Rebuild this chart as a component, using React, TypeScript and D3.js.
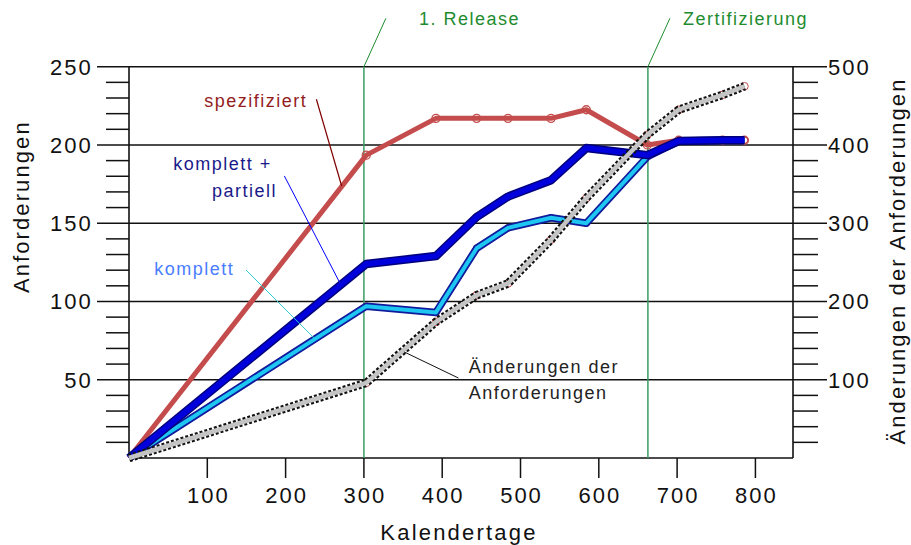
import React from "react";
import * as d3 from "d3";

// ---- data ----
const days = [0, 303, 392, 444, 484, 539, 584, 662, 702, 758, 786];
const spezifiziert = [0, 193.5, 217, 217, 217, 217, 222.5, 200, 203, 203, 203];
const komplettPartiell = [0, 124, 129, 154, 167, 177.5, 198, 193.5, 202.5, 203, 203];
const komplett = [0, 97, 93, 134, 147, 153.5, 150, 192.5, 202.5, 203, 203];
const aenderungen = [0, 96, 174, 208, 223, 279, 332, 413, 445, 464, 475];

const xTicks = [100, 200, 300, 400, 500, 600, 700, 800];
const yMajor = [50, 100, 150, 200, 250];
const yLabels = ["50", "100", "150", "200", "250"];
const y2Labels = ["100", "200", "300", "400", "500"];
const yMinor = [10, 20, 30, 40, 60, 70, 80, 90, 110, 120, 130, 140, 160, 170, 180, 190, 210, 220, 230, 240];
const milestones = [
  { day: 300, label: "1. Release", textDx: 55 },
  { day: 662.7, label: "Zertifizierung", textDx: 35 },
];

const W = 911;
const H = 545;
const FONT = "'Liberation Sans', Arial, Helvetica, sans-serif";

export default function App() {
  const x = d3.scaleLinear().domain([0, 848]).range([129, 793]);
  const y = d3.scaleLinear().domain([0, 250]).range([458, 66.7]);
  const y2 = d3.scaleLinear().domain([0, 500]).range([458, 66.7]);

  const left = x.range()[0];
  const right = x.range()[1];
  const bottom = y(0);
  const top = y(250);

  const lineL = d3
    .line<number>()
    .x((_, i) => x(days[i]))
    .y((d) => y(d));
  const lineR = d3
    .line<number>()
    .x((_, i) => x(days[i]))
    .y((d) => y2(d));

  const red = "#c44c4c";
  const green = "#3a9c62";

  const annot = { fontFamily: FONT, fontSize: 18, letterSpacing: 1.5 } as const;

  return (
    <svg
      width={W}
      height={H}
      style={{ position: "absolute", left: 0, top: 0, background: "#fff" }}
      fontFamily={FONT}
    >
      <rect x={0} y={0} width={W} height={H} fill="#fff" />

      {/* gridlines / major ticks */}
      {yMajor.map((v) => (
        <line key={"g" + v} x1={97} x2={827} y1={y(v)} y2={y(v)} stroke="#111" strokeWidth={1.6} />
      ))}
      {/* minor ticks left and right */}
      {yMinor.map((v) => (
        <g key={"m" + v}>
          <line x1={106} x2={left} y1={y(v)} y2={y(v)} stroke="#111" strokeWidth={1.5} />
          <line x1={right} x2={818} y1={y(v)} y2={y(v)} stroke="#111" strokeWidth={1.5} />
        </g>
      ))}
      {/* axes frame */}
      <line x1={left} x2={left} y1={top} y2={bottom} stroke="#111" strokeWidth={1.6} />
      <line x1={right} x2={right} y1={top} y2={bottom} stroke="#111" strokeWidth={1.6} />
      <line x1={left} x2={right} y1={bottom} y2={bottom} stroke="#111" strokeWidth={1.6} />
      {/* x ticks */}
      {xTicks.map((v) => (
        <g key={"x" + v}>
          <line x1={x(v)} x2={x(v)} y1={bottom} y2={bottom + 20} stroke="#111" strokeWidth={1.5} />
          <text x={x(v) + 1} y={503} textAnchor="middle" fontSize={22} letterSpacing={2} fill="#111">
            {v}
          </text>
        </g>
      ))}
      {/* y tick labels */}
      {yMajor.map((v, i) => (
        <text key={"yl" + v} x={92.7} y={y(v) + 8} textAnchor="end" fontSize={22} letterSpacing={2} fill="#111">
          {yLabels[i]}
        </text>
      ))}
      {yMajor.map((v, i) => (
        <text key={"yr" + v} x={828} y={y(v) + 8} textAnchor="start" fontSize={22} letterSpacing={2} fill="#111">
          {y2Labels[i]}
        </text>
      ))}

      {/* axis titles */}
      <text x={(left + right) / 2 - 2} y={540} textAnchor="middle" fontSize={22} letterSpacing={2.2} fill="#111">
        Kalendertage
      </text>
      <text
        transform={`translate(28.5, ${206.7}) rotate(-90)`}
        textAnchor="middle"
        fontSize={22}
        letterSpacing={2.1}
        fill="#111"
      >
        Anforderungen
      </text>
      <text
        transform={`translate(905, ${261}) rotate(-90)`}
        textAnchor="middle"
        fontSize={22}
        letterSpacing={2.1}
        fill="#111"
      >
        Änderungen der Anforderungen
      </text>

      {/* milestones */}
      {milestones.map((m) => (
        <g key={m.label}>
          <line x1={x(m.day)} x2={x(m.day)} y1={top} y2={bottom} stroke={green} strokeWidth={1.5} />
          <line x1={x(m.day)} x2={x(m.day) + 22} y1={top} y2={18.3} stroke="#1e8c2e" strokeWidth={1} />
          <text x={x(m.day) + m.textDx} y={25} fill="#1e8c2e" {...annot}>
            {m.label}
          </text>
        </g>
      ))}

      {/* vertex marks for blue/cyan/grey series */}
      {days.map((d, i) =>
        i === 0 ? null : (
          <g key={"vm" + i} fill="none" stroke={red} strokeWidth={1}>
            <circle cx={x(d)} cy={y(komplett[i])} r={3.4} />
            <circle cx={x(d)} cy={y(komplettPartiell[i])} r={3.4} />
            <circle cx={x(d)} cy={y2(aenderungen[i])} r={3.8} />
          </g>
        )
      )}

      {/* spezifiziert */}
      <path d={lineL(spezifiziert) || ""} fill="none" stroke={red} strokeWidth={5} strokeLinejoin="round" />
      {days.map((d, i) =>
        i === 0 ? null : (
          <circle
            key={"rc" + i}
            cx={x(d)}
            cy={y(spezifiziert[i])}
            r={4}
            fill={i === 8 ? "#fff" : "none"}
            stroke={red}
            strokeWidth={1.3}
          />
        )
      )}

      {/* komplett */}
      <path d={lineL(komplett) || ""} fill="none" stroke="#101a9c" strokeWidth={7.5} strokeLinejoin="round" />
      <path d={lineL(komplett) || ""} fill="none" stroke="#1ec6f2" strokeWidth={4} strokeLinejoin="round" />

      {/* komplett + partiell */}
      <path d={lineL(komplettPartiell) || ""} fill="none" stroke="#00007e" strokeWidth={8.5} strokeLinejoin="round" />
      <path d={lineL(komplettPartiell) || ""} fill="none" stroke="#0000dc" strokeWidth={5.5} strokeLinejoin="round" />

      {/* Änderungen */}
      <path
        d={lineR(aenderungen) || ""}
        fill="none"
        stroke="#111"
        strokeWidth={8.5}
        strokeDasharray="3 2"
        strokeLinejoin="round"
      />
      <path d={lineR(aenderungen) || ""} fill="none" stroke="#c4c4c4" strokeWidth={4.5} strokeLinejoin="round" />

      {/* annotations */}
      <line x1={x(239.3)} y1={y(229.2)} x2={x(271.6)} y2={y(173.8)} stroke="#800000" strokeWidth={1.2} />
      <text x={x(96)} y={y(224.4)} fill="#941c1c" {...annot}>
        spezifiziert
      </text>

      <line x1={x(198.4)} y1={y(180.2)} x2={x(269.6)} y2={y(111.6)} stroke="#0000ff" strokeWidth={1} />
      <text x={x(56.5)} y={y(184)} fill="#1a1a8a" {...annot}>
        komplett +
      </text>
      <text x={x(106)} y={y(166.9)} fill="#1a1a8a" {...annot}>
        partiell
      </text>

      <line x1={x(149.4)} y1={y(120.1)} x2={x(236.7)} y2={y(76.5)} stroke="#2ccccc" strokeWidth={1} />
      <text x={x(32.2)} y={y(116.9)} fill="#4a7dff" {...annot}>
        komplett
      </text>

      <line x1={x(351.7)} y1={y(67.7)} x2={x(420.7)} y2={y(51.1)} stroke="#111" strokeWidth={1} />
      <text x={x(434)} y={y(54.5)} fill="#222" {...annot}>
        Änderungen der
      </text>
      <text x={x(434)} y={y(37.5)} fill="#222" {...annot}>
        Anforderungen
      </text>
    </svg>
  );
}
